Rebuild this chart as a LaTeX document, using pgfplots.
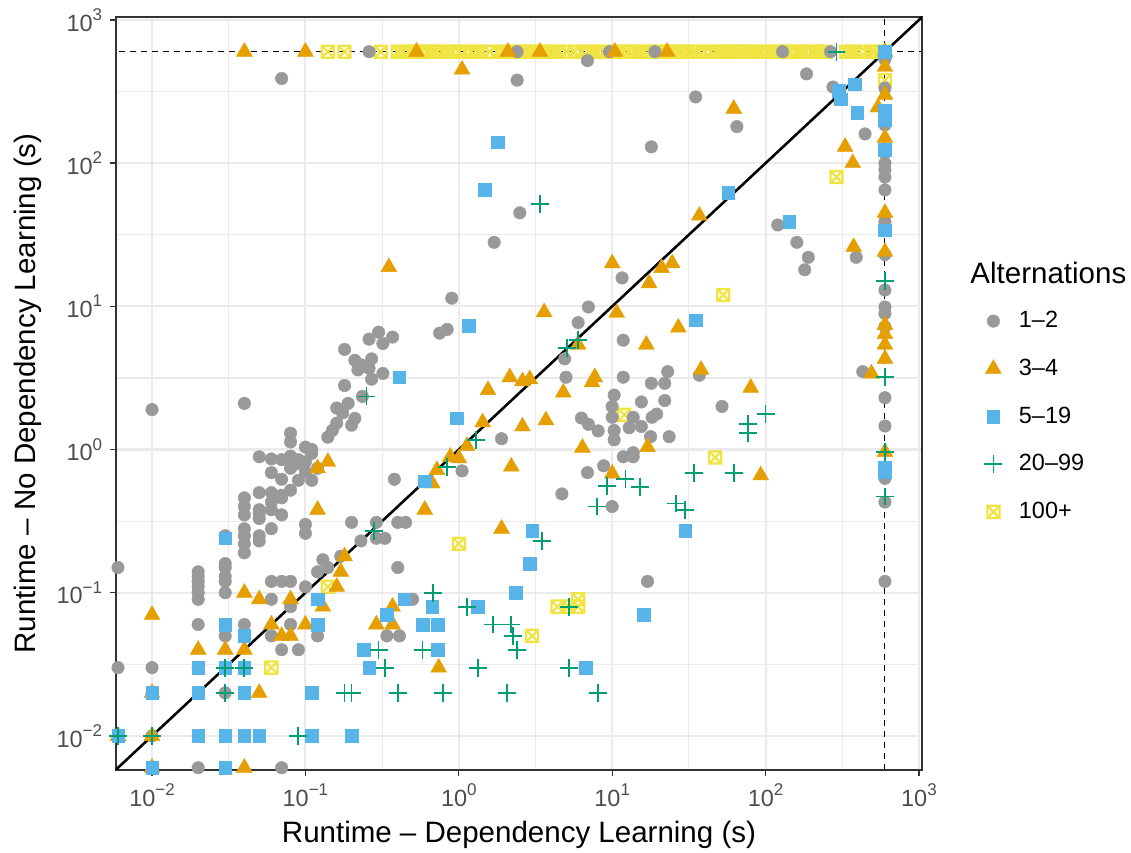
\documentclass[border=0pt]{standalone}
\usepackage{fontspec}
\setmainfont{Liberation Sans}
\usepackage{pgfplots}
\pgfplotsset{compat=1.18}
\definecolor{cgrey}{HTML}{999999}
\definecolor{corange}{HTML}{E69F00}
\definecolor{cblue}{HTML}{56B4E9}
\definecolor{cgreen}{HTML}{009E73}
\definecolor{cyellow}{HTML}{F0E442}
\definecolor{gridc}{HTML}{EBEBEB}
\definecolor{tickc}{HTML}{4D4D4D}
\definecolor{framec}{HTML}{333333}
\pgfdeclareplotmark{sqx}{%
  \pgfpathrectangle{\pgfqpoint{-\pgfplotmarksize}{-\pgfplotmarksize}}{\pgfqpoint{2\pgfplotmarksize}{2\pgfplotmarksize}}%
  \pgfpathmoveto{\pgfqpoint{-\pgfplotmarksize}{-\pgfplotmarksize}}%
  \pgfpathlineto{\pgfqpoint{\pgfplotmarksize}{\pgfplotmarksize}}%
  \pgfpathmoveto{\pgfqpoint{-\pgfplotmarksize}{\pgfplotmarksize}}%
  \pgfpathlineto{\pgfqpoint{\pgfplotmarksize}{-\pgfplotmarksize}}%
  \pgfusepathqstroke}
\newcommand{\tl}[1]{10\raisebox{0.45em}{\fontsize{7.6}{8}\selectfont #1}}
\pgfplotsset{
  sgrey/.style={only marks, color=cgrey, mark=*, mark size=2.8pt, mark options={fill=cgrey, draw=cgrey, line width=0.2pt}},
  sorange/.style={only marks, color=corange, mark=triangle*, mark size=4.1pt, mark options={fill=corange, draw=corange, line width=0.2pt}},
  sblue/.style={only marks, color=cblue, mark=square*, mark size=2.8pt, mark options={fill=cblue, draw=cblue, line width=0.2pt}},
  sgreen/.style={only marks, color=cgreen, mark=+, mark size=4pt, mark options={draw=cgreen, line width=0.8pt}},
  syellow/.style={only marks, color=cyellow, mark=sqx, mark size=2.7pt, mark options={draw=cyellow, fill=none, line width=1.0pt}},
}
\begin{document}
\begin{tikzpicture}
\useasboundingbox (-51.89pt,-37.13pt) rectangle (454.0pt,344.4pt);
\begin{axis}[
  scale only axis, width=360.5pt, height=336.8pt,
  xmode=log, ymode=log,
  xmin=0.005824, xmax=1046, ymin=0.005788, ymax=1049,
  xtick={0.01,0.1,1,10,100,1000}, ytick={0.01,0.1,1,10,100,1000},
  xticklabels={\tl{−2},\tl{−1},\tl{0},\tl{1},\tl{2},\tl{3}},
  yticklabels={\tl{−2},\tl{−1},\tl{0},\tl{1},\tl{2},\tl{3}},
  minor xtick={0.0031623,0.031623,0.31623,3.1623,31.623,316.23},
  minor ytick={0.0031623,0.031623,0.31623,3.1623,31.623,316.23},
  grid=both,
  major grid style={gridc, line width=0.95pt},
  minor grid style={gridc, line width=0.5pt},
  tick align=outside, major tick length=2.7pt, minor tick length=0pt,
  xtick pos=bottom, ytick pos=left,
  tick style={framec, line width=0.6pt},
  axis line style={framec, line width=0.6pt},
  tick label style={font=\fontsize{10.5}{12}\selectfont, text=tickc},
  xlabel={Runtime – Dependency Learning (s)},
  ylabel={Runtime – No Dependency Learning (s)},
  label style={font=\fontsize{13.2}{15}\selectfont},
  xlabel style={at={(axis description cs:0.5,-0.096)}, anchor=base},
  ylabel style={at={(axis description cs:-0.1,0.5)}, anchor=base},
  legend style={at={(axis description cs:1.077,0.4694)}, anchor=west, draw=none, fill=none,
    inner sep=0pt, font=\fontsize{10.5}{12}\selectfont, row sep=8.5pt,
    /tikz/every odd column/.append style={column sep=5.4pt}},
  legend cell align=left,
]
% 100+
\addplot[syellow, forget plot] coordinates {
(0.14,600)(0.18,600)(0.31,600)(0.40,600)(0.43,600)(0.47,600)(0.52,600)(0.57,600)(0.62,600)(0.67,600)(0.71,600)(0.78,600)
(0.85,600)(0.9,600)(1.0,600)(1.1,600)(1.2,600)(1.3,600)(1.4,600)(1.6,600)(1.8,600)(1.95,600)(2.1,600)(2.3,600)(2.5,600)
(2.7,600)(2.9,600)(3.1,600)(3.4,600)(3.6,600)(3.9,600)(4.2,600)(4.5,600)(5.0,600)(5.7,600)(6.3,600)(7.0,600)(7.5,600)(8.0,600)
(8.8,600)(9.5,600)(10.2,600)(11,600)(12,600)(12.8,600)(14,600)(15,600)(16,600)(17.5,600)(19,600)(20,600)(22,600)(24,600)(25,600)
(27,600)(29,600)(31,600)(34,600)(36,600)(40,600)(44,600)(48,600)(51,600)(55,600)(60,600)(63,600)(68,600)(72,600)(80,600)(84,600)(88,600)
(102,600)(110,600)(115,600)(128,600)(136,600)(145,600)(162,600)(170,600)(180,600)(205,600)(215,600)(230,600)(245,600)
(335,600)(360,600)(380,600)(450,600)(490,600)(520,600)(600,600)
(600,380)(290,80)(53,12)(12,1.75)(47,0.88)(1.0,0.22)(4.4,0.08)(5.2,0.08)(6.0,0.09)(6.0,0.08)
(3.0,0.05)(0.06,0.03)(0.14,0.11)
};
% 1-2
\addplot[sgrey, forget plot] coordinates {
(0.26,600)(2.4,600)(9.6,600)(19,600)(129,600)(265,600)(600,600)
(0.07,390)(2.4,380)(6.9,520)(185,420)(275,340)(35,290)(65,180)(18,130)(445,160)
(2.5,45)(1.7,28)(120,37)(160,28)(190,22)(180,18)(390,22)(430,3.5)
(0.9,11.4)(0.75,6.5)(0.84,6.9)
(0.3,6.6)(0.26,5.9)(0.32,5.5)(0.37,6.1)(0.18,5.0)(0.21,4.2)(0.23,3.9)(0.27,4.3)(0.22,3.6)(0.26,3.7)
(0.32,3.4)(0.27,3.1)(0.18,2.8)(0.235,2.35)(0.19,2.1)(0.16,1.95)(0.175,1.8)(0.21,1.65)(0.2,1.48)(0.16,1.53)
(0.15,1.36)(0.14,1.22)(0.08,1.3)(0.08,1.13)(0.1,1.04)(0.11,1.0)(0.11,0.94)(0.05,0.89)(0.06,0.86)(0.07,0.85)
(0.06,0.69)(0.09,0.85)(0.08,0.74)(0.09,0.8)(0.1,0.7)(0.12,0.74)(0.11,0.61)(0.09,0.61)(0.08,0.52)(0.07,0.48)
(0.06,0.5)(0.07,0.46)(0.06,0.43)(0.04,0.46)(0.04,0.35)(0.05,0.36)(0.07,0.35)
(0.08,0.9)(0.1,0.82)(0.07,0.62)(0.05,0.5)
(0.04,0.4)(0.04,0.28)(0.04,0.25)(0.04,0.22)(0.04,0.19)
(0.05,0.38)(0.05,0.33)(0.05,0.25)(0.05,0.23)
(0.06,0.38)(0.06,0.28)(0.06,0.12)(0.06,0.09)(0.06,0.05)
(0.03,0.25)(0.03,0.16)(0.03,0.15)(0.03,0.13)(0.03,0.12)(0.03,0.1)(0.03,0.06)(0.03,0.05)(0.03,0.02)(0.03,0.006)
(0.02,0.14)(0.02,0.13)(0.02,0.12)(0.02,0.11)(0.02,0.1)(0.02,0.09)(0.02,0.06)(0.02,0.03)(0.02,0.02)(0.02,0.01)(0.02,0.006)
(0.01,0.03)(0.01,0.02)(0.01,0.01)(0.01,1.9)
(0.006,0.15)(0.006,0.03)
(0.04,2.1)(0.04,0.06)
(0.07,0.12)(0.07,0.04)(0.07,0.006)
(0.08,0.12)(0.08,0.08)(0.08,0.06)(0.09,0.04)
(0.1,0.3)(0.1,0.26)(0.1,0.11)(0.11,0.02)
(0.12,0.14)(0.12,0.05)(0.13,0.17)(0.14,0.15)(0.17,0.18)(0.2,0.31)
(0.23,0.23)(0.29,0.31)(0.29,0.24)(0.33,0.24)(0.4,0.31)(0.4,0.15)(0.5,0.09)(0.34,0.05)(0.41,0.05)
(0.38,0.62)(1.05,0.71)(0.45,0.31)(1.9,1.19)(4.7,0.49)(10,0.4)(6.9,0.69)(8.8,0.77)
(4.9,4.3)(5.0,3.2)(11.8,5.8)(11.6,15.8)(7.0,9.9)(6.0,7.7)(11.8,3.2)(23,3.5)(18,2.9)(22,2.9)
(10.3,2.4)(10,2.0)(15.5,2.15)(22,2.2)(52,2.0)(6.3,1.66)(7.0,1.5)(8.1,1.35)(10,1.68)(10.3,1.36)
(10.3,1.17)(13.7,1.68)(12.9,1.42)(15.5,1.45)(18.2,1.68)(19.5,1.77)(17.8,1.23)(23.5,1.23)(11.8,0.89)(13.7,0.95)
(13.7,0.89)(17,0.12)(37,3.3)
(600,530)(600,334)(600,185)(600,118)(600,100)(600,90)(600,80)(600,65)(600,39)(600,23)
(600,13)(600,9.9)(600,8.9)(600,7.2)(600,2.3)(600,1.46)(600,0.63)(600,0.43)(600,0.12)
};
% 3-4
\addplot[sorange, forget plot] coordinates {
(0.04,600)(0.1,600)(0.53,600)(2.09,600)(3.38,600)(10.4,600)(22.8,600)(600,600)
(1.05,450)
(600,470)(600,300)(600,150)(540,245)(600,45)(600,24)(600,7.4)(600,6.4)(600,5.4)(600,4.3)(600,0.96)
(490,3.4)(330,130)(370,100)(375,26)(62,240)(37,43)(10,20)(21,18.5)(24.6,20)(17.4,14.5)
(3.6,9.1)(10.7,9.0)(27,7.1)(6.0,5.4)(16.7,5.4)(38,3.6)(2.15,3.2)(2.6,3.0)(2.9,3.1)(1.55,2.6)
(4.8,2.5)(7.7,3.2)(7.4,2.95)(80,2.7)(3.7,1.6)(2.6,1.45)(1.43,1.55)(1.13,1.06)(0.88,0.89)(1.0,0.87)
(0.72,0.72)(0.67,0.58)(2.2,0.76)(0.6,0.38)(1.9,0.28)(6.4,1.03)(10,0.68)(17,1.04)(93,0.66)(0.35,18.8)
(0.14,0.82)(0.12,0.74)(0.12,0.38)
(0.01,0.07)(0.01,0.02)(0.01,0.01)(0.01,0.006)(0.02,0.04)(0.03,0.04)(0.04,0.1)(0.04,0.04)(0.04,0.006)(0.05,0.09)
(0.05,0.02)(0.06,0.06)(0.07,0.05)(0.08,0.09)(0.08,0.05)(0.1,0.06)(0.13,0.08)(0.16,0.11)(0.17,0.14)(0.18,0.18)
(0.29,0.06)(0.37,0.06)(0.37,0.08)(0.74,0.03)(0.006,0.01)
};
% 5-19
\addplot[sblue, forget plot] coordinates {
(1.8,140)(1.48,65)(1.16,7.3)(0.41,3.2)(0.97,1.65)(0.6,0.6)(3.0,0.27)(2.9,0.16)(2.35,0.1)(6.7,0.03)
(16,0.07)(30,0.27)(35,8.0)
(600,235)(600,200)(600,124)(600,34)(600,0.75)(600,0.7)(600,600)
(300,320)(380,355)(310,280)(395,225)(143,39)(57,62)
(0.006,0.01)(0.01,0.02)(0.01,0.006)(0.02,0.03)(0.02,0.02)(0.02,0.01)(0.03,0.24)(0.03,0.06)(0.03,0.03)(0.03,0.01)
(0.03,0.006)(0.04,0.05)(0.04,0.03)(0.04,0.02)(0.04,0.01)(0.05,0.01)(0.11,0.02)(0.11,0.01)(0.2,0.01)(0.12,0.09)
(0.12,0.06)(0.44,0.09)(0.34,0.07)(0.67,0.08)(0.58,0.06)(0.73,0.06)(0.73,0.04)(0.24,0.04)(0.26,0.03)(1.33,0.08)
};
% 20-99
\addplot[sgreen, forget plot] coordinates {
(3.4,52)(290,600)(600,15)(600,3.2)(600,0.96)(600,0.47)(0.25,2.35)(1.3,1.17)(0.84,0.76)(6.0,5.8)
(5.1,5.1)(100,1.77)(77,1.5)(77,1.3)(34,0.69)(62,0.69)(12.2,0.62)(9.2,0.56)(15.2,0.55)(8.0,0.4)
(26,0.42)(30,0.38)(3.5,0.23)(2.2,0.06)(2.25,0.05)(2.4,0.04)(5.2,0.08)(5.2,0.03)(2.06,0.02)(8.1,0.02)
(1.13,0.08)(1.67,0.06)(1.33,0.03)(0.79,0.02)(0.68,0.1)(0.58,0.04)(0.3,0.04)(0.33,0.03)(0.18,0.02)(0.2,0.02)
(0.4,0.02)(0.28,0.27)(0.09,0.01)(0.03,0.03)(0.03,0.02)(0.04,0.03)(0.006,0.01)(0.01,0.01)
};
% reference lines
\addplot[black, line width=0.45pt, dash pattern=on 2.7pt off 2.2pt, forget plot] coordinates {(0.001,600)(5000,600)};
\addplot[black, line width=0.45pt, dash pattern=on 2.7pt off 2.2pt, forget plot] coordinates {(600,0.001)(600,5000)};
\addplot[black, line width=1.15pt, forget plot] coordinates {(0.001,0.001)(5000,5000)};
% legend
\addlegendimage{sgrey}\addlegendentry{1–2}
\addlegendimage{sorange}\addlegendentry{3–4}
\addlegendimage{sblue}\addlegendentry{5–19}
\addlegendimage{sgreen}\addlegendentry{20–99}
\addlegendimage{syellow}\addlegendentry{100+}
\end{axis}
\node[anchor=base west, inner sep=0pt, font=\fontsize{13.2}{15}\selectfont] at (382.0pt,217.6pt) {Alternations};
\end{tikzpicture}
\end{document}
